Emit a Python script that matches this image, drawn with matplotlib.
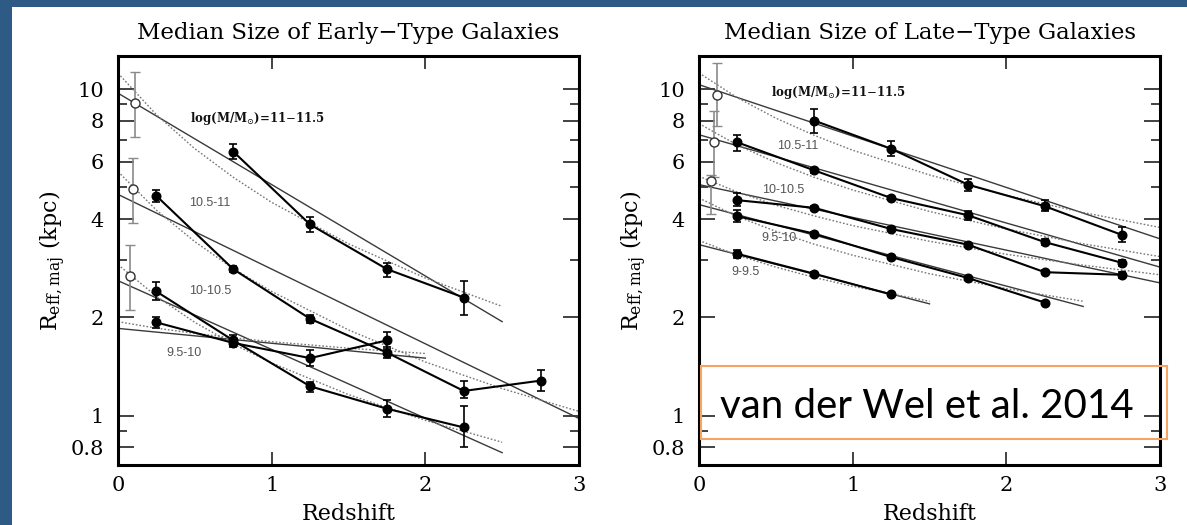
import matplotlib
matplotlib.use('Agg')
import matplotlib.pyplot as plt
from matplotlib.patches import Rectangle
from matplotlib.ticker import FixedLocator, FuncFormatter, NullFormatter

plt.rcParams['font.family'] = ['DejaVu Serif']
plt.rcParams['mathtext.fontset'] = 'dejavuserif'

# ---------------- data ----------------
titles = ['Median Size of Early\u2212Type Galaxies', 'Median Size of Late\u2212Type Galaxies']
x_ticks = [0, 1, 2, 3]
y_ticks_major = [0.8, 1, 2, 4, 6, 8, 10]
y_ticks_minor = [0.9, 3, 5, 7, 9]
fit_z_grid = [0, 0.25, 0.5, 0.75, 1.0, 1.5, 2.0, 2.5, 3.0]

# Early-type, filled points (mass bins 11-11.5, 10.5-11, 10-10.5, 9.5-10)
early_z = [[0.75, 1.25, 1.75, 2.25],
           [0.25, 0.75, 1.25, 1.75, 2.25, 2.75],
           [0.25, 0.75, 1.25, 1.75, 2.25],
           [0.25, 0.75, 1.25, 1.75]]
early_r = [[6.44, 3.85, 2.81, 2.30],
           [4.71, 2.81, 1.98, 1.56, 1.19, 1.28],
           [2.40, 1.70, 1.23, 1.05, 0.92],
           [1.93, 1.67, 1.50, 1.70]]
early_lo = [[6.10, 3.65, 2.66, 2.04],
            [4.52, 2.75, 1.92, 1.50, 1.13, 1.19],
            [2.26, 1.63, 1.18, 0.99, 0.80],
            [1.86, 1.62, 1.42, 1.60]]
early_hi = [[6.80, 4.05, 2.93, 2.59],
            [4.92, 2.87, 2.04, 1.62, 1.28, 1.38],
            [2.56, 1.77, 1.27, 1.12, 1.07],
            [2.01, 1.73, 1.59, 1.80]]
early_open_z = [0.11, 0.10, 0.08]
early_open_r = [9.06, 4.94, 2.67]
early_open_lo = [7.16, 3.89, 2.10]
early_open_hi = [11.3, 6.17, 3.34]
# fits: solid straight lines (start at z=0, end at z_end), dotted curves on fit_z_grid
early_fit_zend = [2.5, 3.0, 2.5, 2.0]
early_solid_start = [9.72, 4.76, 2.59, 1.85]
early_solid_end = [1.94, 0.98, 0.77, 1.50]
early_dotted = [[11.19, 8.35, 6.57, 5.37, 4.50, 3.36, 2.64, 2.16],
                [5.59, 4.26, 3.41, 2.82, 2.40, 1.83, 1.46, 1.21, 1.03],
                [2.90, 2.32, 1.93, 1.657, 1.45, 1.16, 0.967, 0.829],
                [1.94, 1.853, 1.786, 1.731, 1.684, 1.609, 1.55]]
early_labels = ['log(M/M$_{\\odot}$)=11$-$11.5', '10.5-11', '10-10.5', '9.5-10']

# Late-type, filled points (mass bins 11-11.5, 10.5-11, 10-10.5, 9.5-10, 9-9.5)
late_z = [[0.75, 1.25, 1.75, 2.25, 2.75],
          [0.25, 0.75, 1.25, 1.75, 2.25, 2.75],
          [0.25, 0.75, 1.25, 1.75, 2.25, 2.75],
          [0.25, 0.75, 1.25, 1.75, 2.25],
          [0.25, 0.75, 1.25]]
late_r = [[8.01, 6.57, 5.10, 4.38, 3.58],
          [6.87, 5.64, 4.64, 4.11, 3.40, 2.94],
          [4.57, 4.33, 3.73, 3.34, 2.75, 2.70],
          [4.08, 3.61, 3.06, 2.64, 2.22],
          [3.13, 2.72, 2.35]]
late_lo = [[7.34, 6.26, 4.86, 4.22, 3.40],
           [6.48, 5.55, 4.58, 3.96, 3.33, 2.88],
           [4.38, 4.27, 3.68, 3.29, 2.71, 2.64],
           [3.93, 3.56, 3.02, 2.61, 2.19],
           [3.04, 2.69, 2.33]]
late_hi = [[8.72, 6.92, 5.31, 4.56, 3.77],
           [7.25, 5.73, 4.70, 4.24, 3.47, 3.00],
           [4.81, 4.39, 3.78, 3.39, 2.79, 2.76],
           [4.25, 3.66, 3.10, 2.67, 2.25],
           [3.21, 2.75, 2.37]]
late_open_z = [0.115, 0.095, 0.075]
late_open_r = [9.57, 6.89, 5.22]
late_open_lo = [7.70, 5.40, 4.15]
late_open_hi = [12.0, 8.60, 5.45]
late_fit_zend = [3.0, 3.0, 3.0, 2.5, 1.5]
late_solid_start = [10.32, 7.25, 5.10, 4.43, 3.34]
late_solid_end = [3.48, 2.85, 2.55, 2.16, 2.20]
late_dotted = [[11.21, 9.41, 8.15, 7.22, 6.50, 5.46, 4.73, 4.19, 3.77],
               [7.84, 6.74, 5.96, 5.37, 4.91, 4.22, 3.73, 3.36, 3.07],
               [5.41, 4.84, 4.41, 4.09, 3.82, 3.42, 3.12, 2.89, 2.70],
               [4.64, 4.07, 3.67, 3.35, 3.10, 2.72, 2.45, 2.24],
               [3.44, 3.10, 2.85, 2.65, 2.49, 2.24]]
late_labels = ['log(M/M$_{\\odot}$)=11$-$11.5', '10.5-11', '10-10.5', '9.5-10', '9-9.5']

# ---------------- figure ----------------
W, H = 1187, 525
fig = plt.figure(figsize=(W / 100, H / 100), dpi=100)
fig.patch.set_facecolor('white')
blue = '#2E5A86'
fig.patches.append(Rectangle((0, (H - 7) / H), 1, 7 / H, transform=fig.transFigure,
                             facecolor=blue, edgecolor='none', zorder=0))
fig.patches.append(Rectangle((0, 0), 12 / W, 1, transform=fig.transFigure,
                             facecolor=blue, edgecolor='none', zorder=0))

ax_bottom_px, ax_top_px = 464.6, 56.5
ax_w_px = 461


def make_axes(left_px):
    return fig.add_axes([left_px / W, (H - ax_bottom_px) / H, ax_w_px / W,
                         (ax_bottom_px - ax_top_px) / H])


def style_axes(ax, title, center_px):
    ax.set_yscale('log')
    ax.set_xlim(0, 3)
    ax.set_ylim(10 ** -0.15, 10 ** 1.1)
    ax.xaxis.set_major_locator(FixedLocator(x_ticks))
    ax.xaxis.set_major_formatter(FuncFormatter(lambda v, p: '%d' % v))
    ax.yaxis.set_major_locator(FixedLocator(y_ticks_major))
    ax.yaxis.set_major_formatter(FuncFormatter(lambda v, p: '%g' % v))
    ax.yaxis.set_minor_locator(FixedLocator(y_ticks_minor))
    ax.yaxis.set_minor_formatter(NullFormatter())
    ax.tick_params(axis='both', which='both', direction='in', top=True, right=True,
                   color='#333333')
    ax.tick_params(axis='y', which='major', length=11.5, width=1.3, pad=10, labelsize=15)
    ax.tick_params(axis='y', which='minor', length=6.5, width=1.3)
    ax.tick_params(axis='x', which='major', length=9.5, width=1.3, pad=8.5, labelsize=15)
    for s in ax.spines.values():
        s.set_linewidth(2.2)
        s.set_color('black')
    ax.text(0.5, (ax_bottom_px - 520) / (ax_bottom_px - ax_top_px), 'Redshift',
            transform=ax.transAxes, ha='center', va='baseline', fontsize=16)
    ax.text(-65 / ax_w_px, 0.5, r'R$_{\rm eff,maj}$ (kpc)', transform=ax.transAxes,
            rotation=90, ha='center', va='center', fontsize=16)
    fig.text(center_px / W, (H - 39) / H, title, ha='center', va='baseline', fontsize=16.5)


def draw_panel(ax, zs, rs, los, his, oz, orr, olo, ohi, zend, s0, s1, dotted):
    for i in range(len(zs)):
        ax.plot([0, zend[i]], [s0[i], s1[i]], color='#3a3a3a', lw=1.0, zorder=2)
        n = len(dotted[i])
        ax.plot(fit_z_grid[:n], dotted[i], color='#777777', lw=1.0,
                ls=(0, (1.2, 1.4)), zorder=2)
        z, r = zs[i], rs[i]
        lo = [r[k] - los[i][k] for k in range(len(r))]
        hi = [his[i][k] - r[k] for k in range(len(r))]
        ax.plot(z, r, '-', color='black', lw=1.5, zorder=4)
        ax.errorbar(z, r, yerr=[lo, hi], fmt='o', ms=6.2, color='black', ecolor='black',
                    elinewidth=1.2, capsize=3, capthick=1.2, zorder=5)
    lo = [orr[k] - olo[k] for k in range(len(orr))]
    hi = [ohi[k] - orr[k] for k in range(len(orr))]
    ax.errorbar(oz, orr, yerr=[lo, hi], fmt='o', ms=6.5, mfc='white', mec='#333333',
                mew=1.0, ecolor='#8a8a8a', elinewidth=1.2, capsize=3.5, capthick=1.2,
                zorder=5)


ax1 = make_axes(118)
ax2 = make_axes(699)
style_axes(ax1, titles[0], 118 + ax_w_px / 2)
style_axes(ax2, titles[1], 699 + ax_w_px / 2)

draw_panel(ax1, early_z, early_r, early_lo, early_hi, early_open_z, early_open_r,
           early_open_lo, early_open_hi, early_fit_zend, early_solid_start,
           early_solid_end, early_dotted)
draw_panel(ax2, late_z, late_r, late_lo, late_hi, late_open_z, late_open_r,
           late_open_lo, late_open_hi, late_fit_zend, late_solid_start,
           late_solid_end, late_dotted)

# series labels
big_kw = dict(ha='center', va='center', fontsize=8.5, fontweight='bold', color='#111111')
small_kw = dict(ha='center', va='center', fontsize=9, color='#555555',
                family=['Liberation Sans'])
ax1.text(0.91, 8.15, early_labels[0], **big_kw)
ax1.text(0.60, 4.48, early_labels[1], **small_kw)
ax1.text(0.60, 2.41, early_labels[2], **small_kw)
ax1.text(0.43, 1.55, early_labels[3], **small_kw)
ax2.text(0.91, 9.80, late_labels[0], **big_kw)
ax2.text(0.64, 6.68, late_labels[1], **small_kw)
ax2.text(0.55, 4.92, late_labels[2], **small_kw)
ax2.text(0.52, 3.50, late_labels[3], **small_kw)
ax2.text(0.30, 2.75, late_labels[4], **small_kw)

# citation box
fig.patches.append(Rectangle((700.7 / W, (H - 439) / H), 466.6 / W, 73.3 / H,
                             transform=fig.transFigure, facecolor='none',
                             edgecolor='#F5A55F', lw=1.5, zorder=10))
fig.text(926.7 / W, (H - 418) / H, 'van der Wel et al. 2014', ha='center', va='baseline',
         fontsize=29, family=['Lato'], color='black', zorder=11)

fig.savefig('out.png', dpi=100, facecolor='white')
